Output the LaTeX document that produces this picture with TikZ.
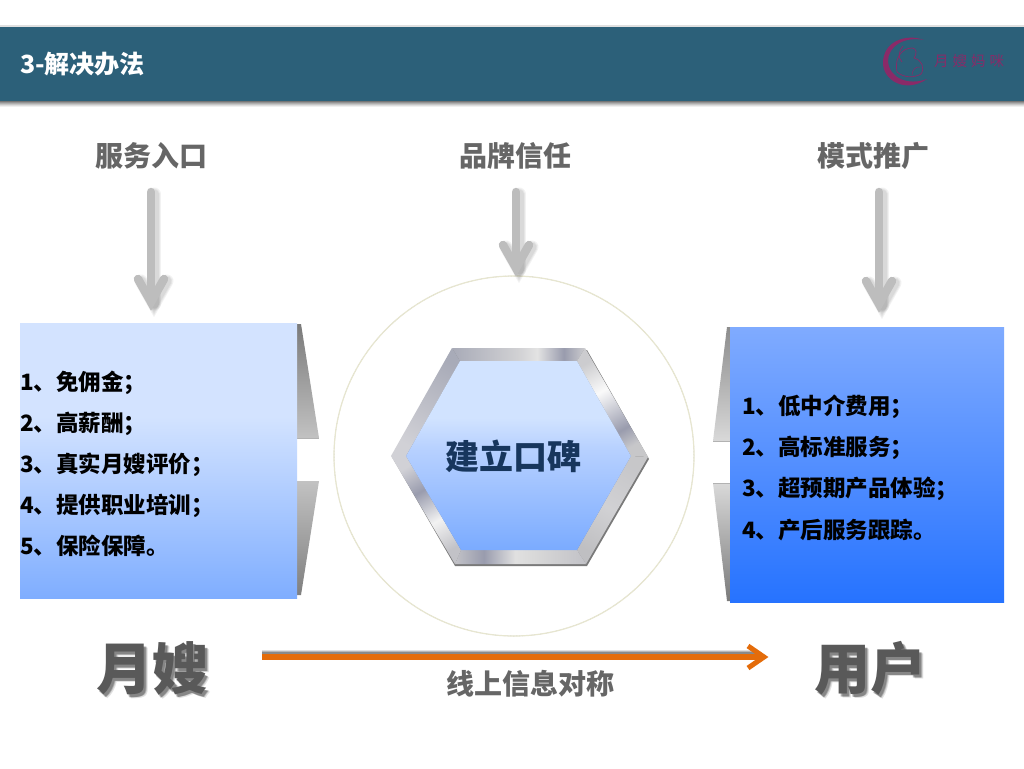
\documentclass[tikz,border=0pt]{standalone}
\usepackage{fontspec}
\setmainfont{Noto Sans CJK SC}
\usetikzlibrary{calc}
\definecolor{hdr}{HTML}{2C6079}
\definecolor{logo}{HTML}{8A2A68}
\definecolor{headgray}{HTML}{666666}
\definecolor{arrgray}{HTML}{BDBDBD}
\definecolor{orangeline}{HTML}{E46C0A}
\definecolor{navy}{HTML}{17365D}
\pgfdeclareverticalshading{lboxshade}{100bp}{rgb(0bp)=(0.498,0.68,1);rgb(25bp)=(0.498,0.68,1);rgb(58bp)=(0.827,0.89,1);rgb(100bp)=(0.827,0.89,1)}
\pgfdeclareverticalshading{rboxshade}{100bp}{rgb(0bp)=(0.15,0.45,1);rgb(25bp)=(0.15,0.45,1);rgb(75bp)=(0.5,0.67,1);rgb(100bp)=(0.5,0.67,1)}
\pgfdeclareverticalshading{hexshade}{100bp}{rgb(0bp)=(0.48,0.67,1);rgb(25bp)=(0.48,0.67,1);rgb(52bp)=(0.72,0.82,1);rgb(60bp)=(0.82,0.89,1);rgb(100bp)=(0.82,0.89,1)}
% metal bands, along each bevel from its start to its end
\pgfdeclarehorizontalshading{mtop}{100bp}{rgb(0bp)=(.66,.67,.72);rgb(25bp)=(.66,.67,.72);rgb(50bp)=(.82,.82,.83);rgb(57bp)=(.89,.89,.89);rgb(67bp)=(.6,.61,.68);rgb(75bp)=(.8,.8,.81);rgb(100bp)=(.8,.8,.81)}
\pgfdeclarehorizontalshading{mur}{100bp}{rgb(0bp)=(.8,.8,.81);rgb(25bp)=(.8,.8,.81);rgb(42bp)=(.98,.98,.98);rgb(65bp)=(.6,.61,.68);rgb(75bp)=(.78,.78,.79);rgb(100bp)=(.78,.78,.79)}
\pgfdeclarehorizontalshading{mlr}{100bp}{rgb(0bp)=(.78,.78,.79);rgb(25bp)=(.78,.78,.79);rgb(50bp)=(.82,.82,.83);rgb(75bp)=(.75,.75,.76);rgb(100bp)=(.75,.75,.76)}
\pgfdeclarehorizontalshading{mbot}{100bp}{rgb(0bp)=(.76,.76,.78);rgb(25bp)=(.76,.76,.78);rgb(45bp)=(.85,.85,.85);rgb(52bp)=(.88,.88,.88);rgb(64bp)=(.6,.61,.68);rgb(75bp)=(.76,.76,.78);rgb(100bp)=(.76,.76,.78)}
\pgfdeclarehorizontalshading{mll}{100bp}{rgb(0bp)=(.76,.76,.78);rgb(25bp)=(.76,.76,.78);rgb(42bp)=(.95,.95,.95);rgb(60bp)=(.6,.61,.68);rgb(75bp)=(.82,.82,.84);rgb(100bp)=(.82,.82,.84)}
\pgfdeclarehorizontalshading{mul}{100bp}{rgb(0bp)=(.82,.82,.84);rgb(25bp)=(.82,.82,.84);rgb(75bp)=(.66,.67,.72);rgb(100bp)=(.66,.67,.72)}
\tikzset{
  x=1pt,y=-1pt,
  plain/.style={inner sep=0pt,outer sep=0pt},
  listitem/.style={plain,anchor=west,font=\fontsize{22.5}{24}\selectfont\bfseries,text=black,text height=19pt,text depth=3pt},
  heading/.style={plain,font=\fontsize{28}{30}\selectfont\bfseries,text=headgray},
  bigname/.style={plain,font=\fontsize{56}{60}\selectfont\bfseries},
  greyarrow/.style={draw=arrgray,line width=8.5pt,line cap=round,line join=miter},
  greyshadow/.style={draw=black,line cap=round,line join=miter,opacity=.05},
}
\newcommand{\grayarrow}[2]{% start coordinate, tip coordinate
  \foreach \w in {13,11,9}{
    \draw[greyshadow,line width=\w pt] ($(#1)+(3,2)$) -- ($(#2)+(3,-6)$);
    \draw[greyshadow,line width=\w pt] ($(#2)+(-10,-29)$) -- ($(#2)+(3,-6)$) -- ($(#2)+(16,-29)$);
  }
  \draw[greyarrow] (#1) -- ($(#2)+(0,-8)$);
  \draw[greyarrow] ($(#2)+(-13,-31)$) -- ($(#2)+(0,-8)$) -- ($(#2)+(13,-31)$);
}
\newcommand{\bevel}[6]{\shade[shading=#5,shading angle=#6] (#1) -- (#2) -- (#3) -- (#4) -- cycle;}
\begin{document}
\begin{tikzpicture}
\useasboundingbox (0,0) rectangle (1024,768);
\fill[white] (0,0) rectangle (1024,768);

% header
\foreach \i/\o in {6/.06,5/.08,4/.1,3/.12,2/.15,1/.2}{
  \fill[black,opacity=\o] (0,101) rectangle (1024,101+\i);
}
\fill[black,opacity=.12] (0,25) rectangle (1024,27);
\fill[hdr] (0,27) rectangle (1024,101);
\node[plain,anchor=west,text=white,font=\fontsize{25}{27}\selectfont\bfseries] (title) at (20,64) {3-解决办法};

% logo
\fill[logo] (924,40) .. controls (905,33) and (883,42) .. (883,63) .. controls (883,80) and (905,94) .. (927,79)
  .. controls (908,86) and (889,78) .. (888,61) .. controls (888,46) and (905,36) .. (924,40) -- cycle;
\draw[logo,line width=.7pt] (897,72) .. controls (894,58) and (902,48) .. (912,48) .. controls (917,48) and (917,54) .. (914,58)
  .. controls (922,60) and (925,68) .. (921,74) .. controls (914,78) and (904,78) .. (897,72);
\draw[logo,line width=.7pt] (903,46) .. controls (898,52) and (898,58) .. (902,62);
\draw[logo,line width=.5pt] (912,75) .. controls (912,70) and (916,66) .. (920,67);
\node[plain,anchor=west,text=logo,font=\fontsize{14.5}{16}\selectfont,opacity=.95] (logotext) at (934,61) {月\hspace{4pt}嫂\hspace{4pt}妈\hspace{4pt}咪};

% headings
\node[heading] (h1) at (151,156) {服务入口};
\node[heading] (h2) at (515,156) {品牌信任};
\node[heading] (h3) at (873,156) {模式推广};

% circle
\node[plain,circle,minimum size=360pt,draw=black!45,line width=.5pt,densely dotted] (ring2) at (514,456) {};
\node[plain,circle,minimum size=360pt,draw=black!12!white!90!yellow,line width=1.2pt] (ring) at (514,456) {};

% grey arrows
\coordinate (a1s) at (151,192); \coordinate (a1t) at (151,310);
\coordinate (a2s) at (516,192); \coordinate (a2t) at (516,276);
\coordinate (a3s) at (879,192); \coordinate (a3t) at (879,312);
\grayarrow{a1s}{a1t}
\grayarrow{a2s}{a2t}
\grayarrow{a3s}{a3t}

% wedges left
\shade[top color=black!52,bottom color=black!24] (297,324) -- (301,324) -- (319,438) -- (297,438) -- cycle;
\draw[black!30,line width=.5pt] (297,438) -- (319,438);
\shade[top color=black!24,bottom color=black!50] (297,481) -- (319,481) -- (301,595) -- (297,595) -- cycle;
% wedges right
\shade[top color=black!45,bottom color=black!15] (730,327) -- (727,327) -- (713,441) -- (730,441) -- cycle;
\draw[black!30,line width=.5pt] (713,441) -- (730,441);
\shade[top color=black!15,bottom color=black!52] (713,483) -- (730,483) -- (730,601) -- (727,601) -- cycle;
\draw[black!30,line width=.5pt] (713,483) -- (730,483);

% boxes
\shade[shading=lboxshade] (20,323) rectangle (297,598);
\shade[shading=rboxshade] (730,327) rectangle (1004,602);
\node[listitem] (l1) at (20,382) {1、免佣金；};
\node[listitem] (l2) at (20,423) {2、高薪酬；};
\node[listitem] (l3) at (20,464) {3、真实月嫂评价；};
\node[listitem] (l4) at (20,505) {4、提供职业培训；};
\node[listitem] (l5) at (20,546) {5、保险保障。};
\node[listitem] (r1) at (742,406) {1、低中介费用；};
\node[listitem] (r2) at (742,447) {2、高标准服务；};
\node[listitem] (r3) at (742,488) {3、超预期产品体验；};
\node[listitem] (r4) at (742,530) {4、产后服务跟踪。};

% hexagon
\fill[black!52] (392,457) -- (453,350) -- (587,350) -- (649,459) -- (587,566) -- (455,566) -- cycle;
\coordinate (o1) at (452,348); \coordinate (o2) at (585,348); \coordinate (o3) at (648,457);
\coordinate (o4) at (586,564); \coordinate (o5) at (455,564); \coordinate (o6) at (391,456);
\coordinate (i1) at (460,361); \coordinate (i2) at (577,361); \coordinate (i3) at (631,456);
\coordinate (i4) at (577,550); \coordinate (i5) at (461,550); \coordinate (i6) at (406,456);
\bevel{o1}{o2}{i2}{i1}{mtop}{0}
\bevel{o2}{o3}{i3}{i2}{mur}{-60}
\bevel{o3}{o4}{i4}{i3}{mlr}{-120}
\bevel{o4}{o5}{i5}{i4}{mbot}{180}
\bevel{o5}{o6}{i6}{i5}{mll}{120}
\bevel{o6}{o1}{i1}{i6}{mul}{60}
\shade[shading=hexshade] (i1) -- (i2) -- (i3) -- (i4) -- (i5) -- (i6) -- cycle;
\node[plain,text=navy,font=\fontsize{34}{36}\selectfont\bfseries] (hextext) at (513,456) {建立口碑};

% bottom names
\foreach \dx/\dy/\o in {4/4/.12,3/3/.2,2/3/.25}{
  \node[bigname,text=black,opacity=\o] at (152+\dx,668+\dy) {月嫂};
  \node[bigname,text=black,opacity=\o] at (870+\dx,668+\dy) {用户};
}
\node[bigname,text=black!65] (yuesao) at (152,668) {月嫂};
\node[bigname,text=black!65] (yonghu) at (870,668) {用户};

% orange arrow
\coordinate (os) at (262,657); \coordinate (ot) at (772,657);
\foreach \w/\o in {4/.12,3/.18,2/.25}{
  \fill[black,opacity=\o] (262,654-\w) rectangle (755,654);
}
\draw[orangeline,line width=6pt] (os) -- ($(ot)+(-8,0)$);
\draw[orangeline,line width=5pt,line join=miter] ($(ot)+(-24,-11)$) -- ($(ot)+(-8,0)$) -- ($(ot)+(-24,11)$);
\node[heading] (mid) at (530,684) {线上信息对称};
\end{tikzpicture}
\end{document}
